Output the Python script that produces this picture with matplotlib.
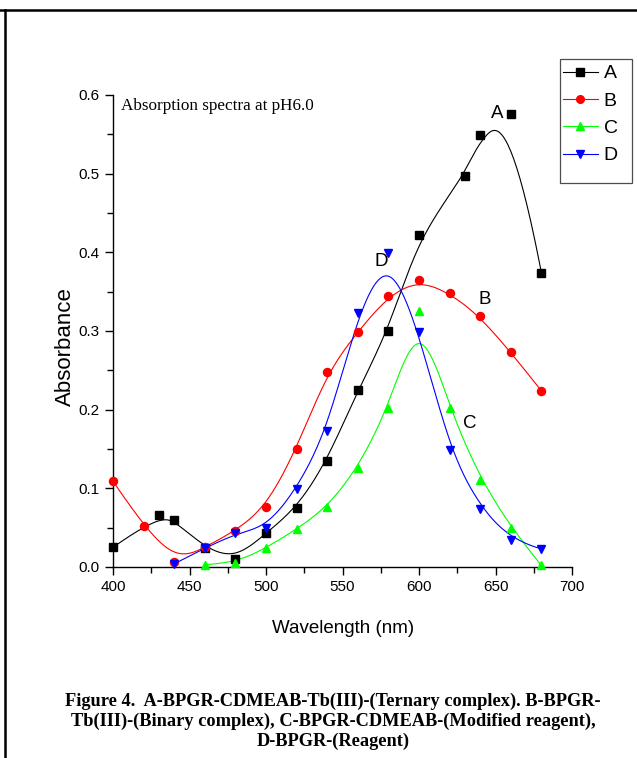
import numpy as np
import matplotlib
matplotlib.use("Agg")
import matplotlib.pyplot as plt
from matplotlib.lines import Line2D
from matplotlib.patches import Rectangle
from matplotlib.ticker import MultipleLocator, FormatStrFormatter

# absorbance
wl_a = [400, 430, 440, 460, 480, 500, 520, 540, 560, 580, 600, 630, 640, 660, 680]
abs_a = [0.025, 0.066, 0.060, 0.024, 0.010, 0.043, 0.075, 0.135, 0.225, 0.300, 0.422,
         0.497, 0.549, 0.576, 0.374]
wl_b = [400, 420, 440, 460, 480, 500, 520, 540, 560, 580, 600, 620, 640, 660, 680]
abs_b = [0.109, 0.052, 0.006, 0.025, 0.046, 0.076, 0.150, 0.248, 0.299, 0.345, 0.365,
         0.348, 0.319, 0.273, 0.224]
wl_c = [460, 480, 500, 520, 540, 560, 580, 600, 620, 640, 660, 680]
abs_c = [0.003, 0.005, 0.024, 0.048, 0.076, 0.126, 0.202, 0.325, 0.202, 0.111, 0.050, 0.002]
wl_d = [440, 460, 480, 500, 520, 540, 560, 580, 600, 620, 640, 660, 680]
abs_d = [0.004, 0.024, 0.043, 0.050, 0.099, 0.173, 0.323, 0.399, 0.299, 0.149, 0.074,
         0.034, 0.023]

series = [("A", wl_a, abs_a, "black", "s"),
          ("B", wl_b, abs_b, "#ff0000", "o"),
          ("C", wl_c, abs_c, "#00ff00", "^"),
          ("D", wl_d, abs_d, "#0000ff", "v")]

SANS = ["Liberation Sans", "DejaVu Sans"]
SERIF = ["Liberation Serif", "DejaVu Serif"]
plt.rcParams.update({"font.family": SANS, "font.size": 10})

W, H = 637, 758


def bspline(xs, ys, k=3, n=500):
    """Clamped uniform cubic B-spline with the data points as control points."""
    P = np.column_stack([xs, ys]).astype(float)
    m = len(P)
    knots = np.concatenate([np.zeros(k + 1), np.arange(1, m - k), np.full(k + 1, m - k)])
    out = []
    for t in np.linspace(0, m - k, n):
        s = min(np.searchsorted(knots, t, side="right") - 1, m - 1)
        d = [P[j + s - k].copy() for j in range(k + 1)]
        for r in range(1, k + 1):
            for j in range(k, r - 1, -1):
                i = j + s - k
                den = knots[i + k - r + 1] - knots[i]
                a = 0.0 if den == 0 else (t - knots[i]) / den
                d[j] = (1 - a) * d[j - 1] + a * d[j]
        out.append(d[k])
    out = np.array(out)
    return out[:, 0], out[:, 1]


fig = plt.figure(figsize=(W / 100, H / 100), dpi=100)
ax = fig.add_axes([113 / W, 1 - 567 / H, 459 / W, 472 / H])

handles = []
for name, x, y, col, mk in series:
    sx, sy = bspline(x, y)
    ax.plot(sx, sy, color=col, lw=0.8)
    ax.plot(x, y, ls="none", marker=mk, color=col, ms=5.8, clip_on=False, zorder=3)
    handles.append(Line2D([], [], color=col, lw=0.8, marker=mk, ms=5.5, label=name))

for lab, lx, ly in [("A", 651, 0.577), ("B", 643, 0.340), ("C", 633, 0.182), ("D", 575, 0.388)]:
    ax.text(lx, ly, lab, fontsize=13.5, ha="center", va="center")
ax.text(405, 0.586, "Absorption spectra at pH6.0", fontsize=12.3, family=SERIF,
        ha="left", va="center")

ax.set_xlim(400, 700)
ax.set_ylim(0, 0.6)
ax.xaxis.set_major_locator(MultipleLocator(50))
ax.xaxis.set_minor_locator(MultipleLocator(25))
ax.yaxis.set_major_locator(MultipleLocator(0.1))
ax.yaxis.set_minor_locator(MultipleLocator(0.05))
ax.yaxis.set_major_formatter(FormatStrFormatter("%.1f"))
ax.tick_params(which="major", direction="out", length=6, width=1, labelsize=11)
ax.tick_params(which="minor", direction="out", length=4, width=1)
for sp in ["top", "right"]:
    ax.spines[sp].set_visible(False)
for sp in ["left", "bottom"]:
    ax.spines[sp].set_linewidth(1)
ax.set_xlabel("Wavelength (nm)", fontsize=13.5)
ax.set_ylabel("Absorbance", fontsize=16)
ax.xaxis.set_label_coords((343 - 113) / 459, -(620 - 567) / 472)
ax.yaxis.set_label_coords(-(113 - 76) / 459, (567 - 347) / 472)

leg = fig.legend(handles=handles, loc="upper left", bbox_to_anchor=(559 / W, 1 - 61 / H),
                 fontsize=14, frameon=False, handlelength=1.8, handletextpad=0.3,
                 labelspacing=0.5, borderpad=0.2, borderaxespad=0)
fig.add_artist(Rectangle((560 / W, 1 - 183 / H), 72 / W, 124 / H, fill=False,
                         edgecolor="0.3", lw=0.9, transform=fig.transFigure))

# page border lines of the scanned figure
fig.add_artist(Line2D([0, 1], [1 - 10 / H, 1 - 10 / H], color="black", lw=1.8,
                      transform=fig.transFigure))
fig.add_artist(Line2D([5 / W, 5 / W], [0, 1 - 10 / H], color="black", lw=1.8,
                      transform=fig.transFigure))

caption = ("Figure 4.  A-BPGR-CDMEAB-Tb(III)-(Ternary complex). B-BPGR-\n"
           "Tb(III)-(Binary complex), C-BPGR-CDMEAB-(Modified reagent),\n"
           "D-BPGR-(Reagent)")
fig.text(333 / W, 1 - 721 / H, caption, ha="center", va="center", fontsize=13.2,
         fontweight="bold", family=SERIF, linespacing=1.2)

fig.savefig("out.png", dpi=100)
